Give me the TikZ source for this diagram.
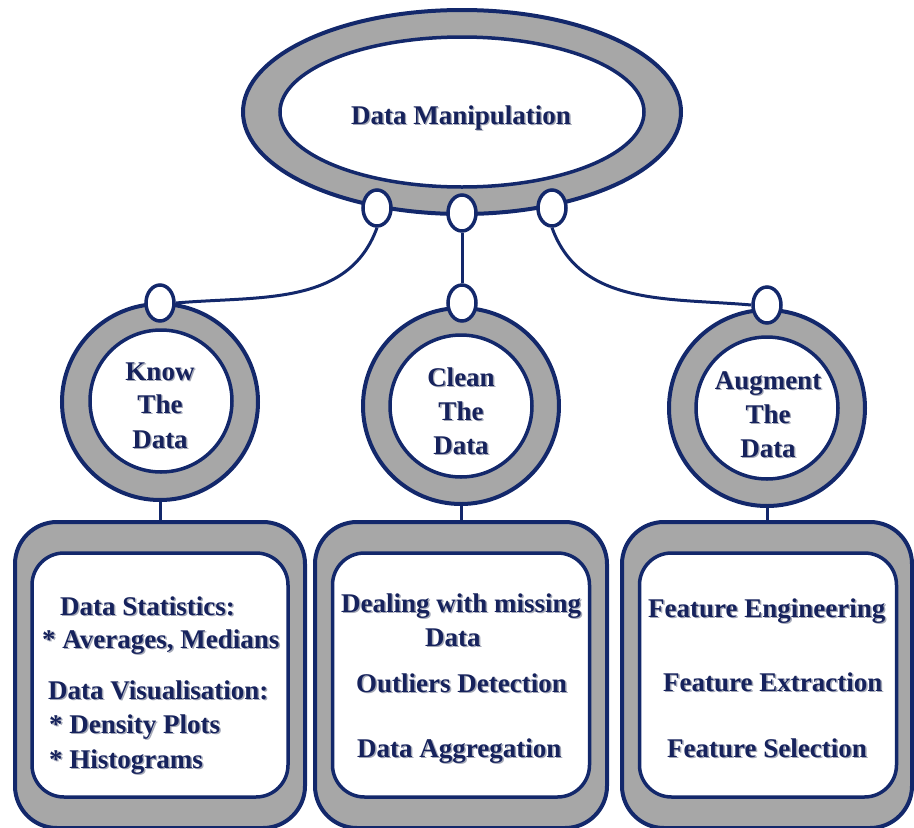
\documentclass[tikz,border=0pt]{standalone}
\usepackage{fontspec}
\setmainfont{Liberation Serif}
\usetikzlibrary{shapes.geometric}

\definecolor{navy}{HTML}{13286B}
\definecolor{ringgray}{HTML}{A7A7A7}
\definecolor{inknavy}{HTML}{16225C}
\definecolor{shadowgray}{HTML}{A4A8B6}

% bold text with a soft drop shadow
\newcommand\shadowed[1]{\rlap{\textcolor{shadowgray}{\kern1.4pt\raisebox{-1.4pt}{#1}}}#1}

\tikzset{
  outerring/.style={draw=navy, line width=4pt, fill=ringgray, inner sep=0pt},
  innerhole/.style={draw=navy, line width=3.5pt, fill=white, inner sep=0pt},
  link/.style={draw=navy, line width=3pt},
  bead/.style={ellipse, draw=navy, line width=3.5pt, fill=white,
    minimum width=28pt, minimum height=36pt, inner sep=0pt},
  txt/.style={text=inknavy, font=\bfseries\fontsize{27}{34}\selectfont, inner sep=0pt},
  frameout/.style={rectangle, rounded corners=42pt, draw=navy, line width=4pt,
    fill=ringgray, inner sep=0pt},
  framein/.style={rectangle, rounded corners=32pt, draw=navy, line width=3.5pt,
    fill=white, inner sep=0pt},
}

\begin{document}
\begin{tikzpicture}[x=1pt, y=1pt]
\useasboundingbox (0,0) rectangle (914,-828);

% --- top ellipse ---
\node[outerring, ellipse, minimum width=438pt, minimum height=204pt] (topring) at (462,-112) {};
\node[innerhole, ellipse, minimum width=364pt, minimum height=150pt] (tophole) at (462,-112) {};
\node[txt, anchor=base] (title) at (461,-124) {\shadowed{Data Manipulation}};

% --- three circles ---
\node[outerring, circle, minimum size=196pt] (c1) at (160,-402) {};
\node[innerhole, circle, minimum size=142pt] (h1) at (161,-401) {};
\node[outerring, circle, minimum size=196pt] (c2) at (461,-406) {};
\node[innerhole, circle, minimum size=142pt] (h2) at (461,-406) {};
\node[outerring, circle, minimum size=196pt] (c3) at (767,-408) {};
\node[innerhole, circle, minimum size=142pt] (h3) at (767,-408) {};

\node[txt, anchor=base] (k1) at (160,-380) {\shadowed{Know}};
\node[txt, anchor=base] (k2) at (160,-413) {\shadowed{The}};
\node[txt, anchor=base] (k3) at (160,-448) {\shadowed{Data}};
\node[txt, anchor=base] (l1) at (461,-386) {\shadowed{Clean}};
\node[txt, anchor=base] (l2) at (461,-420) {\shadowed{The}};
\node[txt, anchor=base] (l3) at (461,-454) {\shadowed{Data}};
\node[txt, anchor=base] (a1) at (768,-389) {\shadowed{Augment}};
\node[txt, anchor=base] (a2) at (768,-423) {\shadowed{The}};
\node[txt, anchor=base] (a3) at (768,-457) {\shadowed{Data}};

% --- three boxes ---
\node[frameout, minimum width=290pt, minimum height=306pt] (b1) at (160,-675) {};
\node[framein, minimum width=256pt, minimum height=244pt] (i1) at (160,-675) {};
\node[frameout, minimum width=292pt, minimum height=306pt] (b2) at (461,-675) {};
\node[framein, minimum width=257pt, minimum height=244pt] (i2) at (461,-675) {};
\node[frameout, minimum width=290pt, minimum height=306pt] (b3) at (767,-675) {};
\node[framein, minimum width=257pt, minimum height=244pt] (i3) at (768,-675) {};

% stubs between circles and boxes
\draw[link] (c1.south) -- (b1.north);
\draw[link] (c2.south) -- (b2.north);
\draw[link] (c3.south) -- (b3.north);

% box texts
\node[txt, anchor=base west] (s1) at (60,-615) {\shadowed{Data Statistics:}};
\node[txt, anchor=base west] (s2) at (42,-648) {\shadowed{* Averages, Medians}};
\node[txt, anchor=base west] (s3) at (48,-699) {\shadowed{Data Visualisation:}};
\node[txt, anchor=base west] (s4) at (49,-733) {\shadowed{* Density Plots}};
\node[txt, anchor=base west] (s5) at (49,-768) {\shadowed{* Histograms}};

\node[txt, anchor=base west] (m1) at (341,-612) {\shadowed{Dealing with missing}};
\node[txt, anchor=base west] (m2) at (425,-646) {\shadowed{Data}};
\node[txt, anchor=base west] (m3) at (356,-692) {\shadowed{Outliers Detection}};
\node[txt, anchor=base west] (m4) at (357,-757) {\shadowed{Data Aggregation}};

\node[txt, anchor=base west] (f1) at (648,-617) {\shadowed{Feature Engineering}};
\node[txt, anchor=base west] (f2) at (663,-691) {\shadowed{Feature Extraction}};
\node[txt, anchor=base west] (f3) at (667,-757) {\shadowed{Feature Selection}};

% --- beads and links ---
\node[bead] (t1) at (377,-208) {};
\node[bead] (t2) at (462,-213) {};
\node[bead] (t3) at (552,-208) {};
\node[bead] (d1) at (160,-303) {};
\node[bead] (d2) at (462,-303) {};
\node[bead] (d3) at (767,-305) {};

\draw[link] (t1.south) to[out=-110, in=5] (d1.east);
\draw[link] (t2.south) -- (d2.north);
\draw[link] (t3.south) to[out=-70, in=175] (d3.west);
\end{tikzpicture}
\end{document}
